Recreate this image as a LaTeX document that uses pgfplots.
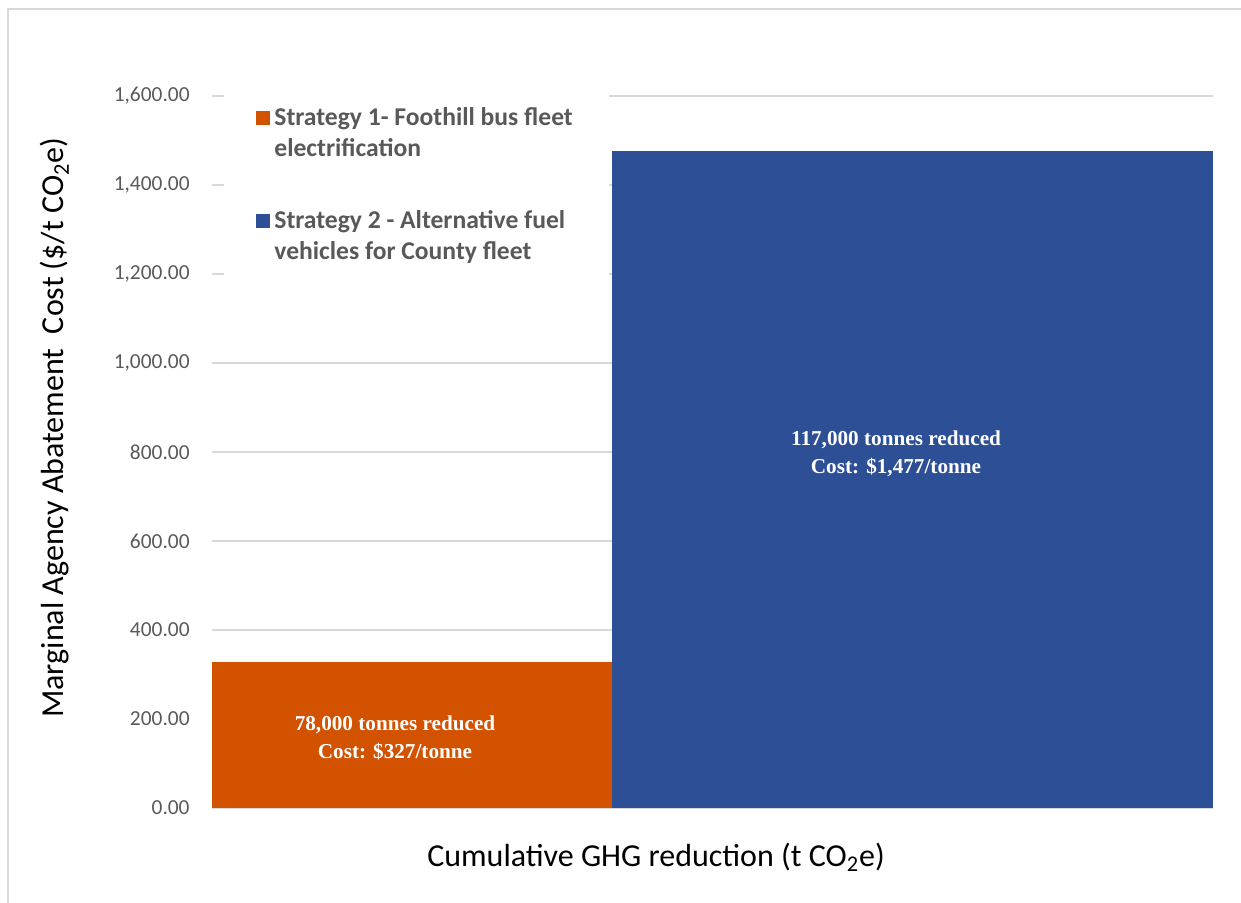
\documentclass[border=0pt]{standalone}
\usepackage{pgfplots}
\pgfplotsset{compat=1.18}
\usepackage{fontspec}
\setmainfont{Carlito}
\newfontfamily\timesfont{Liberation Serif}
\definecolor{barorange}{RGB}{210,82,0}
\definecolor{barblue}{RGB}{45,79,150}
\definecolor{ticktext}{RGB}{89,89,89}
\definecolor{gridc}{RGB}{217,217,217}
\begin{document}
\begin{tikzpicture}
\useasboundingbox (-106pt,-47.5pt) rectangle (514.5pt,404pt);
\draw[gridc, line width=0.8pt] (-102pt,-47.5pt) -- (-102pt,399.5pt) -- (514.5pt,399.5pt);
\begin{axis}[
  at={(0pt,0pt)}, anchor=south west,
  scale only axis, width=500.5pt, height=356pt,
  xmin=0, xmax=195000, ymin=0, ymax=1600,
  axis line style={draw=none},
  xtick=\empty,
  ytick={0,200,400,600,800,1000,1200,1400,1600},
  scaled y ticks=false,
  major tick length=0pt,
  ymajorgrids, grid style={gridc, line width=0.7pt},
  /pgf/number format/fixed,
  /pgf/number format/fixed zerofill,
  /pgf/number format/precision=2,
  /pgf/number format/1000 sep={,},
  /pgf/number format/assume math mode=true,
  yticklabel style={font=\fontsize{10.7}{12}\selectfont, text=ticktext, inner sep=0pt, anchor=east, xshift=-11pt},
  xlabel={Cumulative GHG reduction (t CO\textsubscript{2}e)},
  xlabel style={font=\fontsize{16}{19}\selectfont, at={(axis description cs:0.4436,-0.0688)}, anchor=center},
  ylabel={Marginal Agency Abatement\ \ Cost (\$/t CO\textsubscript{2}e)},
  ylabel style={font=\fontsize{16}{19}\selectfont, at={(axis description cs:-0.157,0.534)}, anchor=center},
  legend cell align=left,
  legend style={at={(rel axis cs:0.012,1.0255)}, anchor=north west, draw=none, fill=white,
    font=\bfseries\fontsize{12.8}{15.5}\selectfont, text=ticktext,
    inner xsep=16pt, inner ysep=12.5pt, row sep=21.5pt, cells={align=left}},
  legend image code/.code={\fill[#1] (0pt,4.25pt) rectangle (7pt,11.25pt);},
]
\addplot[fill=barorange, draw=none] coordinates {(0,0) (0,327) (78000,327) (78000,0)} -- cycle;
\addlegendentry{Strategy 1- Foothill bus fleet\\electrification}
\addplot[fill=barblue, draw=none] coordinates {(78000,0) (78000,1477) (195000,1477) (195000,0)} -- cycle;
\addlegendentry{Strategy 2 - Alternative fuel\\vehicles for County fleet}
\node[font=\timesfont\bfseries\fontsize{10.6}{14}\selectfont, text=white, align=center] at (axis cs:35650,157) {78,000 tonnes reduced\\Cost: \$327/tonne};
\node[font=\timesfont\bfseries\fontsize{10.6}{14}\selectfont, text=white, align=center] at (axis cs:133250,797) {117,000 tonnes reduced\\Cost: \$1,477/tonne};
\end{axis}
\end{tikzpicture}
\end{document}
